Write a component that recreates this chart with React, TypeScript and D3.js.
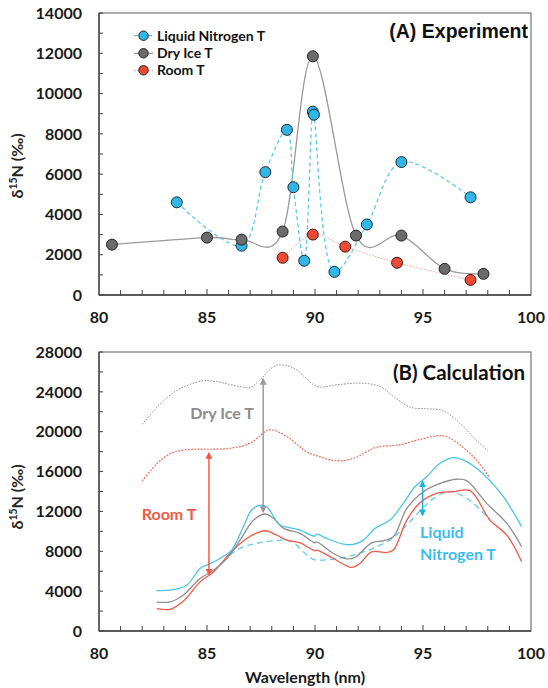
import React from "react";
import * as d3 from "d3";

// ---------- Panel A: experiment ----------
const lnX = [83.6, 86.6, 87.7, 88.7, 89.0, 89.5, 89.9, 89.95, 90.9, 92.4, 94.0, 97.2];
const lnY = [4600, 2450, 6100, 8200, 5350, 1700, 9100, 8950, 1150, 3500, 6600, 4850];
const diX = [80.6, 85.0, 86.6, 88.5, 89.9, 91.9, 94.0, 96.0, 97.8];
const diY = [2500, 2850, 2750, 3150, 11850, 2950, 2950, 1300, 1050];
const rtX = [88.5, 89.9, 91.4, 93.8, 97.2];
const rtY = [1850, 3000, 2400, 1600, 750];
const legendNames = ["Liquid Nitrogen T", "Dry Ice T", "Room T"];
const topTicks = [0, 2000, 4000, 6000, 8000, 10000, 12000, 14000];
const xTicks = [80, 85, 90, 95, 100];

// ---------- Panel B: calculation ----------
const diUpX = [82.0, 82.8, 83.6, 84.8, 85.4, 86.5, 87.0, 87.45, 88.2, 89.0, 90.1, 91.0, 92.1, 93.0, 93.6, 94.4, 95.2, 95.9, 96.7, 97.3, 98.0];
const diUpY = [20750, 22700, 24140, 25110, 25040, 24540, 24440, 25210, 26650, 26390, 24540, 24710, 24880, 24540, 23610, 22470, 22300, 22130, 20860, 19510, 18100];
const rtUpX = [82.0, 82.7, 83.4, 84.4, 85.1, 86.1, 87.0, 87.9, 88.7, 89.6, 90.2, 91.0, 91.8, 92.85, 93.9, 94.9, 95.8, 96.25, 97.0, 97.6, 98.05];
const rtUpY = [15060, 16830, 17900, 18240, 18240, 18340, 18850, 20190, 19510, 18000, 17500, 17070, 17340, 18440, 18680, 19250, 19610, 19350, 18170, 16830, 15490];
const lnCalcX = [82.67, 83.44, 84.06, 84.68, 84.98, 85.6, 86.14, 86.68, 87.07, 87.45, 87.76, 88.38, 88.84, 89.31, 90.0, 90.08, 90.54, 91.31, 91.77, 92.24, 92.78, 93.47, 94.09, 94.63, 95.17, 95.79, 96.41, 97.02, 97.79, 98.72, 99.57];
const lnCalcY = [4060, 4160, 4600, 6270, 6610, 7280, 8120, 10460, 12140, 12610, 12470, 10630, 10360, 10130, 9520, 9730, 9290, 8720, 8690, 9120, 10300, 11130, 12810, 14480, 15490, 16830, 17400, 17000, 15760, 13480, 10460];
const diCalcX = [82.67, 83.29, 83.9, 84.68, 85.3, 85.92, 86.53, 87.16, 87.69, 88.08, 88.55, 89.31, 90.0, 90.08, 90.85, 91.47, 91.85, 92.62, 93.16, 93.63, 94.25, 95.02, 95.79, 96.56, 97.02, 97.95, 98.88, 99.57];
const diCalcY = [2920, 2920, 3590, 5270, 6100, 7280, 9120, 11130, 11740, 11300, 10300, 9800, 8850, 8950, 7780, 7240, 7380, 8850, 9050, 9450, 12310, 13980, 14820, 15230, 15090, 12810, 10800, 8450];
const rtCalcX = [82.67, 83.29, 83.9, 84.68, 85.3, 86.06, 86.84, 87.69, 88.23, 88.69, 89.31, 90.0, 90.08, 90.85, 91.7, 92.08, 92.62, 93.32, 93.63, 94.25, 94.86, 95.63, 96.41, 97.18, 98.1, 98.88, 99.57];
const rtCalcY = [2250, 2180, 2990, 4930, 5930, 7780, 9290, 10060, 9620, 9120, 8850, 8050, 8120, 7280, 6380, 6780, 7950, 7880, 8120, 11130, 12870, 13820, 13980, 14080, 11130, 9620, 6940];
const lnDashX = [86.06, 86.68, 88.69, 90.08, 93.32, 96.25, 97.02, 98.1];
const lnDashY = [7610, 8450, 9120, 7110, 8950, 13980, 13320, 11130];
const botTicks = [0, 4000, 8000, 12000, 16000, 20000, 24000, 28000];
// arrows: [x, yFrom, yTo]
const arrowGray = [87.6, 25280, 11970];
const arrowRed = [85.09, 17840, 5700];
const arrowBlue = [94.98, 14980, 11640];

const W = 548, H = 688;
const C_BLUE = "#3cbdee";
const C_BLUE_M = "#2fb7e8";
const C_GRAY = "#8e8e8e";
const C_GRAY_M = "#6b6b6b";
const C_RED = "#f05a46";
const C_RED_M = "#ee4a33";
const FONT = "Lato, 'Open Sans', sans-serif";

const x = d3.scaleLinear().domain([80, 100]).range([99, 531]);
const yA = d3.scaleLinear().domain([0, 14000]).range([295, 13]);
const yB = d3.scaleLinear().domain([0, 28000]).range([631, 352]);

function zip(xs: number[], ys: number[]): [number, number][] {
  return xs.map((v, i) => [v, ys[i]]);
}

function Frame({ y, top, bottom, ticks, minor }: any) {
  const x0 = x.range()[0], x1 = x.range()[1];
  const minorX = d3.range(81, 100, 1);
  const minorY = d3.range(0, ticks[ticks.length - 1] + 1, minor);
  return (
    <g>
      <rect x={x0} y={top} width={x1 - x0} height={bottom - top} fill="none" stroke="#7f7f7f" strokeWidth={1.3} />
      <line x1={x0} x2={x0} y1={top} y2={bottom} stroke="#404040" strokeWidth={1.3} />
      <line x1={x0} x2={x1} y1={bottom} y2={bottom} stroke="#404040" strokeWidth={1.3} />
      {minorX.map((t) => (
        <line key={"mx" + t} x1={x(t)} x2={x(t)} y1={bottom} y2={bottom - (t % 5 === 0 ? 6 : 5)} stroke="#404040" strokeWidth={1} />
      ))}
      {minorY.map((t: number) => (
        <line key={"my" + t} x1={x0} x2={x0 + 4} y1={y(t)} y2={y(t)} stroke="#404040" strokeWidth={1} />
      ))}
      {ticks.map((t: number) => (
        <text key={"ty" + t} x={82} y={y(t)} dy="0.36em" textAnchor="end" fontFamily={FONT} fontWeight="bold" fontSize={16} fill="#1a1a1a">
          {t}
        </text>
      ))}
      {xTicks.map((t) => (
        <text key={"tx" + t} x={x(t)} y={bottom + 28} textAnchor="middle" fontFamily={FONT} fontWeight="bold" fontSize={16} fill="#1a1a1a">
          {t}
        </text>
      ))}
    </g>
  );
}

function YTitle({ cy }: { cy: number }) {
  return (
    <text transform={`translate(23,${cy}) rotate(-90)`} textAnchor="middle" fontFamily={FONT} fontSize={16} fontWeight="bold" fill="#262626">
      δ<tspan fontSize={10.5} dy={-6}>15</tspan>
      <tspan dy={6}>N (‰)</tspan>
    </text>
  );
}

export default function App() {
  const lineA = d3.line<[number, number]>().x((d) => x(d[0])).y((d) => yA(d[1])).curve(d3.curveCardinal.tension(0));
  const lineAln = d3.line<[number, number]>().x((d) => x(d[0])).y((d) => yA(d[1])).curve(d3.curveCatmullRom.alpha(0.5));
  const lineB = d3.line<[number, number]>().x((d) => x(d[0])).y((d) => yB(d[1])).curve(d3.curveCatmullRom.alpha(0.5));
  const lineBlin = d3.line<[number, number]>().x((d) => x(d[0])).y((d) => yB(d[1])).curve(d3.curveMonotoneX);

  const lnPts = zip(lnX, lnY), diPts = zip(diX, diY), rtPts = zip(rtX, rtY);
  const legend = [
    { name: legendNames[0], fill: C_BLUE_M, line: "#5cc8f0", dash: "4,3" },
    { name: legendNames[1], fill: C_GRAY_M, line: "#9a9a9a", dash: "" },
    { name: legendNames[2], fill: C_RED_M, line: "#f5a09a", dash: "1.5,1.5" },
  ];
  const legendY = [35.7, 53.3, 70.3];

  const arrows = [
    { a: arrowGray, c: "#9a9a9a", id: "ag" },
    { a: arrowRed, c: C_RED, id: "ar" },
    { a: arrowBlue, c: "#1eaee6", id: "ab" },
  ];

  return (
    <svg width={W} height={H} style={{ position: "absolute", left: 0, top: 0, background: "#fff" }}>
      <defs>
        {arrows.map((o) => (
          <marker key={o.id} id={o.id} viewBox="0 0 10 10" refX={8} refY={5} markerWidth={7} markerHeight={7} markerUnits="userSpaceOnUse" orient="auto-start-reverse">
            <path d="M0,0 L10,5 L0,10 z" fill={o.c} />
          </marker>
        ))}
      </defs>

      {/* Panel A */}
      <Frame y={yA} top={13} bottom={295} ticks={topTicks} minor={1000} />
      <YTitle cy={166} />
      <path d={lineA(diPts) || ""} fill="none" stroke="#9a9a9a" strokeWidth={1.3} />
      <path d={lineAln(lnPts) || ""} fill="none" stroke="#5cc8f0" strokeWidth={1.3} strokeDasharray="4,3" />
      <path d={lineA(rtPts) || ""} fill="none" stroke="#f5a09a" strokeWidth={1} strokeDasharray="1.5,1.5" />
      {lnPts.map((p, i) => (
        <circle key={"ln" + i} cx={x(p[0])} cy={yA(p[1])} r={5.5} fill={C_BLUE_M} stroke="#1f2a30" strokeWidth={1} />
      ))}
      {diPts.map((p, i) => (
        <circle key={"di" + i} cx={x(p[0])} cy={yA(p[1])} r={5.5} fill={C_GRAY_M} stroke="#222" strokeWidth={1} />
      ))}
      {rtPts.map((p, i) => (
        <circle key={"rt" + i} cx={x(p[0])} cy={yA(p[1])} r={5.5} fill={C_RED_M} stroke="#3a1a16" strokeWidth={1} />
      ))}
      {legend.map((l, i) => (
        <g key={"lg" + i}>
          <line x1={134} x2={153} y1={legendY[i]} y2={legendY[i]} stroke={l.line} strokeWidth={1.3} strokeDasharray={l.dash} />
          <circle cx={143.5} cy={legendY[i]} r={4.7} fill={l.fill} stroke="#222" strokeWidth={1} />
          <text x={157} y={legendY[i]} dy="0.36em" fontFamily={FONT} fontWeight="bold" fontSize={14} fill="#111">
            {l.name}
          </text>
        </g>
      ))}
      <text x={528} y={38} textAnchor="end" fontFamily="'Liberation Sans', Arial, sans-serif" fontWeight="bold" fontSize={19.5} fill="#111">
        (A) Experiment
      </text>

      {/* Panel B */}
      <Frame y={yB} top={352} bottom={631} ticks={botTicks} minor={2000} />
      <YTitle cy={497} />
      <path d={lineB(zip(diUpX, diUpY)) || ""} fill="none" stroke="#8a8a8a" strokeWidth={1} strokeDasharray="1.5,1.5" />
      <path d={lineB(zip(rtUpX, rtUpY)) || ""} fill="none" stroke="#f0624f" strokeWidth={1.2} strokeDasharray="1.8,1.4" />
      <path d={lineBlin(zip(lnDashX, lnDashY)) || ""} fill="none" stroke="#62c9f1" strokeWidth={1.3} strokeDasharray="6,4" />
      <path d={lineB(zip(rtCalcX, rtCalcY)) || ""} fill="none" stroke={C_RED} strokeWidth={1.3} />
      <path d={lineB(zip(diCalcX, diCalcY)) || ""} fill="none" stroke={C_GRAY} strokeWidth={1.3} />
      <path d={lineB(zip(lnCalcX, lnCalcY)) || ""} fill="none" stroke="#4cc2ee" strokeWidth={1.3} />
      {arrows.map((o) => (
        <line key={"al" + o.id} x1={x(o.a[0])} x2={x(o.a[0])} y1={yB(o.a[1])} y2={yB(o.a[2])} stroke={o.c} strokeWidth={1.5} markerStart={`url(#${o.id})`} markerEnd={`url(#${o.id})`} />
      ))}
      <text x={222} y={413} dy="0.36em" textAnchor="middle" fontFamily={FONT} fontWeight="bold" fontSize={16} fill="#8c8c8c">
        Dry Ice T
      </text>
      <text x={169} y={514} dy="0.36em" textAnchor="middle" fontFamily={FONT} fontWeight="bold" fontSize={16} fill={C_RED}>
        Room T
      </text>
      <text x={420} y={532} dy="0.36em" fontFamily={FONT} fontWeight="bold" fontSize={16} fill={C_BLUE}>
        Liquid
      </text>
      <text x={420} y={554} dy="0.36em" fontFamily={FONT} fontWeight="bold" fontSize={16} fill={C_BLUE}>
        Nitrogen T
      </text>
      <text x={525} y={373} dy="0.36em" textAnchor="end" fontFamily={FONT} fontWeight="bold" fontSize={20.5} fill="#111">
        (B) Calculation
      </text>
      <text x={305} y={683} textAnchor="middle" fontFamily={FONT} fontWeight="bold" fontSize={16} fill="#1a1a1a">
        Wavelength (nm)
      </text>
    </svg>
  );
}
